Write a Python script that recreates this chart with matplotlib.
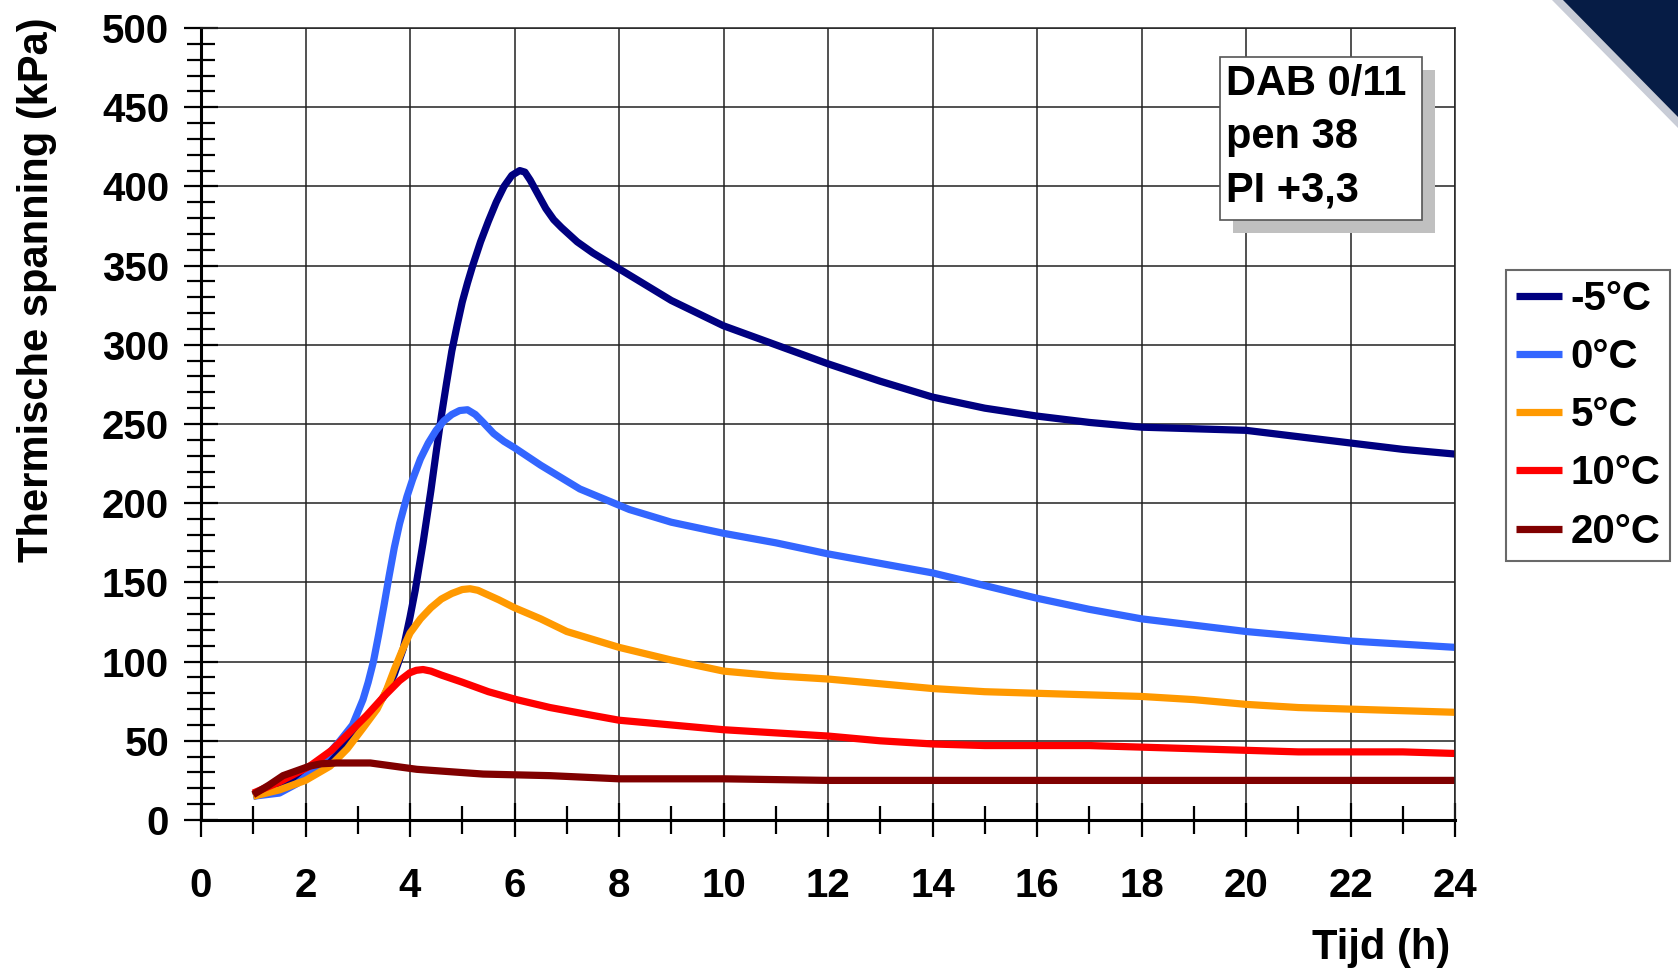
import matplotlib.pyplot as plt
from matplotlib.patches import Rectangle, Polygon
from matplotlib.ticker import MultipleLocator

plt.rcParams['font.family'] = ['Liberation Sans', 'DejaVu Sans']
plt.rcParams['font.weight'] = 'bold'

# thermische spanning (kPa) per temperatuur, tijd in uren
t_m5 = [1, 1.5, 2, 2.5, 3, 3.5, 3.7, 3.87, 4.0, 4.1, 4.25, 4.4, 4.5, 4.6, 4.7, 4.8, 4.9, 5.0, 5.1,
        5.2, 5.35, 5.5, 5.65, 5.8, 5.95, 6.1, 6.2, 6.3, 6.45, 6.6, 6.75, 6.9, 7.2, 7.5, 8, 9, 10,
        11, 12, 13, 14, 15, 16, 17, 18, 19, 20, 21, 22, 23, 24]
s_m5 = [15, 20, 28, 38, 55, 78, 92, 108, 128, 145, 175, 208, 232, 255, 276, 296, 312, 327, 339,
        350, 365, 378, 390, 400, 407, 410, 409, 404, 395, 386, 379, 374, 365, 358, 348, 328, 312,
        300, 288, 277, 267, 260, 255, 251, 248, 247, 246, 242, 238, 234, 231]

t_0 = [1, 1.5, 1.84, 2.2, 2.66, 2.9, 3.1, 3.2, 3.3, 3.4, 3.5, 3.6, 3.7, 3.8, 3.94, 4.05, 4.2,
       4.35, 4.5, 4.65, 4.8, 4.95, 5.1, 5.25, 5.4, 5.6, 5.8, 6.0, 6.5, 7.25, 8.2, 9, 10, 11, 12,
       13, 14, 15, 16, 17, 18, 19, 20, 21, 22, 23, 24]
s_0 = [15, 17, 23, 33, 50, 60, 76, 87, 100, 117, 135, 154, 172, 187, 204, 215, 228,
       238, 246, 252, 256, 258.5, 259, 256, 251, 244, 239, 235, 224, 209, 196, 188, 181, 175, 168,
       162, 156, 148, 140, 133, 127, 123, 119, 116, 113, 111, 109]

t_5 = [1, 1.5, 2, 2.47, 2.8, 3.1, 3.37, 3.55, 3.7, 3.85, 4.0, 4.2, 4.4, 4.6, 4.8, 5.0, 5.15, 5.3,
       5.5, 5.7, 6.0, 6.5, 7.0, 7.5, 8, 9, 10, 11, 12, 13, 14, 15, 16, 17, 18, 19, 20, 21, 22,
       23, 24]
s_5 = [15, 19, 25, 34, 45, 58, 70, 82, 95, 107, 118, 127, 134, 139.5, 143, 145.5, 146, 145,
       142, 139, 134, 127, 119, 114, 109, 101, 94, 91, 89, 86, 83, 81, 80, 79, 78, 76, 73, 71, 70,
       69, 68]

t_10 = [1, 1.5, 2.08, 2.5, 3.17, 3.5, 3.8, 4.0, 4.12, 4.25, 4.4, 4.6, 5.0, 5.5, 6.04, 6.68, 7.5,
        8, 9, 10, 11, 12, 13, 14, 15, 16, 17, 18, 19, 20, 21, 22, 23, 24]
s_10 = [17, 24, 34, 44, 66, 78, 88, 93, 94.5, 95, 94, 91.5, 87, 81, 76, 71, 66,
        63, 60, 57, 55, 53, 50, 48, 47, 47, 47, 46, 45, 44, 43, 43, 43, 42]

t_20 = [1, 1.3, 1.57, 2.08, 2.3, 2.6, 3.24, 4.13, 5.4, 6.68, 8, 10, 12, 14, 16, 18, 20, 22, 24]
s_20 = [16, 22, 28, 34, 35.5, 36, 36, 32, 29, 28, 26, 26, 25, 25, 25, 25, 25, 25, 25]

series = [
    (t_m5, s_m5, '#000080', '-5°C'),
    (t_0, s_0, '#3366ff', '0°C'),
    (t_5, s_5, '#ff9900', '5°C'),
    (t_10, s_10, '#ff0000', '10°C'),
    (t_20, s_20, '#800000', '20°C'),
]

W, H = 1678, 975
fig = plt.figure(figsize=(W / 100, H / 100), dpi=100)
ax = fig.add_axes([201 / W, 1 - 820 / H, (1455 - 201) / W, (820 - 28) / H])

for t, s, c, lab in series:
    ax.plot(t, s, color=c, lw=5.2, label=lab, solid_joinstyle='round', solid_capstyle='butt')

ax.set_xlim(0, 24)
ax.set_ylim(0, 500)
ax.xaxis.set_major_locator(MultipleLocator(2))
ax.xaxis.set_minor_locator(MultipleLocator(1))
ax.yaxis.set_major_locator(MultipleLocator(50))
ax.yaxis.set_minor_locator(MultipleLocator(10))
ax.grid(True, which='major', color='#222222', lw=1.1)

for side in ['top', 'right']:
    ax.spines[side].set_color('#222222')
    ax.spines[side].set_linewidth(1.1)
for side in ['left', 'bottom']:
    ax.spines[side].set_linewidth(2.2)

ax.tick_params(axis='both', which='major', direction='inout', length=24, width=1.6,
               labelsize=29, pad=11)
ax.tick_params(axis='both', which='minor', direction='inout', length=20, width=1.6)
ax.tick_params(axis='x', which='major', pad=22)
for lbl in ax.get_xticklabels() + ax.get_yticklabels():
    lbl.set_fontweight('bold')

fig.text(37 / W, 1 - 290 / H, 'Thermische spanning (kPa)', rotation=90, fontsize=30,
         fontweight='bold', ha='center', va='center')
fig.text(1450 / W, 1 - 948 / H, 'Tijd (h)', fontsize=30, fontweight='bold',
         ha='right', va='center')

# tekstvak met schaduw
fig.patches.append(Rectangle((1233 / W, 1 - 233 / H), 202 / W, 163 / H,
                             transform=fig.transFigure, facecolor='#c0c0c0',
                             edgecolor='none', zorder=5))
fig.patches.append(Rectangle((1220 / W, 1 - 220 / H), 202 / W, 163 / H,
                             transform=fig.transFigure, facecolor='white',
                             edgecolor='#555555', lw=1.2, zorder=6))
for i, line in enumerate(['DAB 0/11', 'pen 38', 'PI +3,3']):
    fig.text(1226 / W, 1 - (84 + 53 * i) / H, line, fontsize=30, fontweight='bold',
             ha='left', va='center', zorder=7)

leg = fig.legend(loc='upper left', bbox_to_anchor=(1506 / W, 1 - 270 / H),
                 bbox_transform=fig.transFigure, fontsize=29, frameon=True,
                 fancybox=False, handlelength=1.15, handletextpad=0.2,
                 labelspacing=0.5, borderpad=0.25, borderaxespad=0)
leg.get_frame().set_edgecolor('#444444')
leg.get_frame().set_linewidth(1.5)
for txt in leg.get_texts():
    txt.set_fontweight('bold')

# donkere hoek rechtsboven
fig.patches.append(Polygon([(1552 / W, 1), (1, 1), (1, 1 - 128 / H)], closed=True,
                           transform=fig.transFigure, facecolor='#c8ccd6',
                           edgecolor='none'))
fig.patches.append(Polygon([(1563 / W, 1), (1, 1), (1, 1 - 117 / H)], closed=True,
                           transform=fig.transFigure, facecolor='#061c45',
                           edgecolor='none'))

fig.savefig('out.png', dpi=100)
